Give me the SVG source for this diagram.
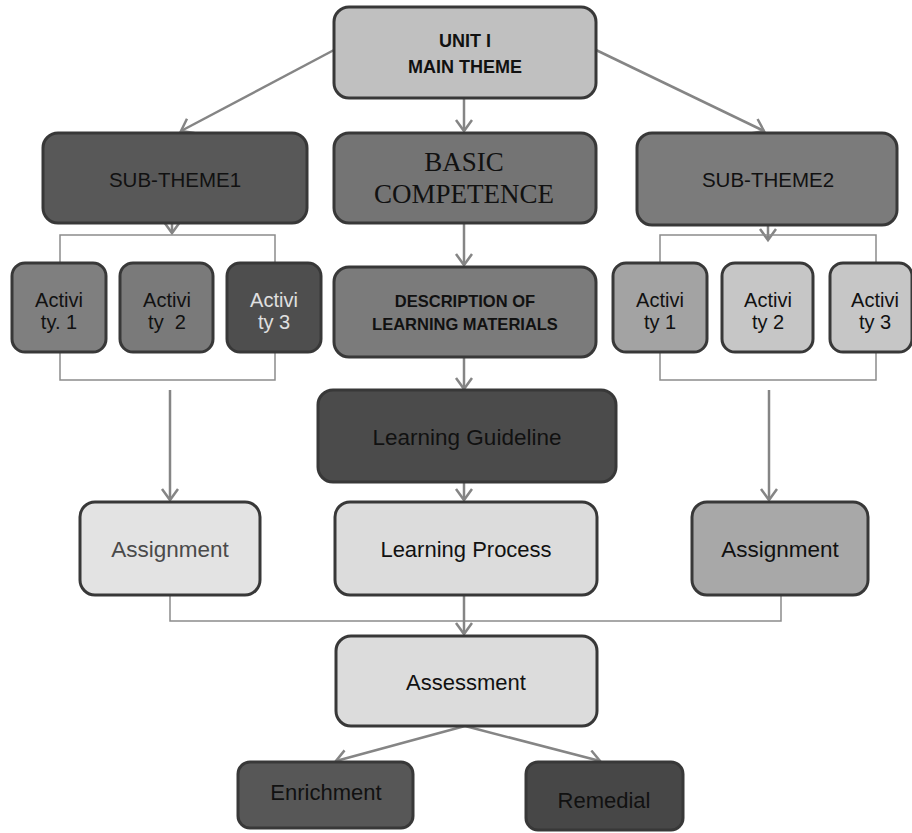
<svg xmlns="http://www.w3.org/2000/svg" width="912" height="833" viewBox="0 0 912 833">
<style>
.b{stroke:#383838;stroke-width:3}
.t{font-family:"Liberation Sans",Arial,sans-serif;fill:#111;text-anchor:middle}
.s{font-family:"Liberation Serif","Times New Roman",serif}
.c{stroke:#858585;stroke-width:2.5;fill:none}
.k{stroke:#8c8c8c;stroke-width:1.5;fill:none}
</style>
<defs>
<marker id="ah" markerUnits="userSpaceOnUse" markerWidth="22" markerHeight="22" refX="12" refY="9" orient="auto">
<path d="M1,1 L12,9 L1,17" fill="none" stroke="#858585" stroke-width="2.5"/>
</marker>
</defs>
<rect width="912" height="833" fill="#fff"/>
<g id="connectors">
<line class="c" x1="334" y1="50" x2="181" y2="131" marker-end="url(#ah)"/>
<line class="c" x1="596" y1="50" x2="764" y2="131" marker-end="url(#ah)"/>
<line class="c" x1="464" y1="98" x2="464" y2="131" marker-end="url(#ah)"/>
<line class="c" x1="172" y1="223" x2="172" y2="233" marker-end="url(#ah)"/>
<line class="c" x1="768" y1="226" x2="768" y2="240" marker-end="url(#ah)"/>
<polyline class="k" points="60,263 60,235 275,235 275,263"/>
<polyline class="k" points="60,352 60,380 275,380 275,352"/>
<polyline class="k" points="660,263 660,235 876,235 876,263"/>
<polyline class="k" points="660,352 660,380 876,380 876,352"/>
<line class="c" x1="464" y1="223" x2="464" y2="265" marker-end="url(#ah)"/>
<line class="c" x1="464" y1="357" x2="464" y2="389" marker-end="url(#ah)"/>
<line class="c" x1="464" y1="482" x2="464" y2="500" marker-end="url(#ah)"/>
<line class="c" x1="170" y1="390" x2="170" y2="500" marker-end="url(#ah)"/>
<line class="c" x1="769" y1="390" x2="769" y2="500" marker-end="url(#ah)"/>
<polyline class="k" points="170,595 170,621 781,621 781,595"/>
<line class="c" x1="464" y1="595" x2="464" y2="634" marker-end="url(#ah)"/>
<line class="c" x1="465" y1="726" x2="336" y2="761" marker-end="url(#ah)"/>
<line class="c" x1="465" y1="726" x2="600" y2="761" marker-end="url(#ah)"/>
</g>
<g id="main">
<rect class="b" x="334" y="7" width="262" height="91" rx="15" fill="#c0c0c0"/>
<text class="t" x="465" y="47" font-size="18" font-weight="bold">UNIT I</text>
<text class="t" x="465" y="73" font-size="18" font-weight="bold">MAIN THEME</text>
</g>
<g id="sub1">
<rect class="b" x="43" y="133" width="264" height="90" rx="15" fill="#585858"/>
<text class="t" x="175" y="187" font-size="20.5">SUB-THEME1</text>
</g>
<g id="basic">
<rect class="b" x="334" y="133" width="262" height="90" rx="15" fill="#747474"/>
<text class="t s" x="464" y="171" font-size="27">BASIC</text>
<text class="t s" x="464" y="203" font-size="27">COMPETENCE</text>
</g>
<g id="sub2">
<rect class="b" x="637" y="133" width="260" height="92" rx="15" fill="#7b7b7b"/>
<text class="t" x="768" y="187" font-size="20.5">SUB-THEME2</text>
</g>
<g id="act1L">
<rect class="b" x="12" y="263" width="94" height="89" rx="13" fill="#7f7f7f"/>
<text class="t" x="59" y="307" font-size="20">Activi</text>
<text class="t" x="59" y="329" font-size="20">ty. 1</text>
</g>
<g id="act2L">
<rect class="b" x="120" y="263" width="93" height="89" rx="13" fill="#7a7a7a"/>
<text class="t" x="167" y="307" font-size="20">Activi</text>
<text class="t" x="167" y="329" font-size="20" xml:space="preserve">ty  2</text>
</g>
<g id="act3L">
<rect class="b" x="227" y="263" width="94" height="89" rx="13" fill="#4e4e4e"/>
<text class="t" x="274" y="307" font-size="20" style="fill:#e0e0e0">Activi</text>
<text class="t" x="274" y="329" font-size="20" style="fill:#e0e0e0">ty 3</text>
</g>
<g id="desc">
<rect class="b" x="334" y="267" width="262" height="90" rx="15" fill="#7b7b7b"/>
<text class="t" x="465" y="307" font-size="16.5" font-weight="bold">DESCRIPTION OF</text>
<text class="t" x="465" y="330" font-size="16.5" font-weight="bold">LEARNING MATERIALS</text>
</g>
<g id="act1R">
<rect class="b" x="613" y="263" width="94" height="89" rx="13" fill="#a3a3a3"/>
<text class="t" x="660" y="307" font-size="20">Activi</text>
<text class="t" x="660" y="329" font-size="20">ty 1</text>
</g>
<g id="act2R">
<rect class="b" x="722" y="263" width="91" height="89" rx="13" fill="#c6c6c6"/>
<text class="t" x="768" y="307" font-size="20">Activi</text>
<text class="t" x="768" y="329" font-size="20">ty 2</text>
</g>
<g id="act3R">
<rect class="b" x="830" y="263" width="82" height="89" rx="13" fill="#c6c6c6"/>
<text class="t" x="875" y="307" font-size="20">Activi</text>
<text class="t" x="875" y="329" font-size="20">ty 3</text>
</g>
<g id="guideline">
<rect class="b" x="318" y="390" width="298" height="92" rx="15" fill="#4b4b4b"/>
<text class="t" x="467" y="445" font-size="22.5">Learning Guideline</text>
</g>
<g id="assignL">
<rect class="b" x="80" y="502" width="180" height="93" rx="15" fill="#e3e3e3"/>
<text class="t" x="170" y="557" font-size="22.5" style="fill:#4a4a4a">Assignment</text>
</g>
<g id="process">
<rect class="b" x="335" y="502" width="262" height="93" rx="15" fill="#dcdcdc"/>
<text class="t" x="466" y="557" font-size="22">Learning Process</text>
</g>
<g id="assignR">
<rect class="b" x="692" y="502" width="176" height="93" rx="15" fill="#a8a8a8"/>
<text class="t" x="780" y="557" font-size="22.5">Assignment</text>
</g>
<g id="assessment">
<rect class="b" x="336" y="636" width="261" height="90" rx="15" fill="#dcdcdc"/>
<text class="t" x="466" y="690" font-size="22">Assessment</text>
</g>
<g id="enrichment">
<rect class="b" x="238" y="762" width="175" height="66" rx="12" fill="#575757"/>
<text class="t" x="326" y="800" font-size="22">Enrichment</text>
</g>
<g id="remedial">
<rect class="b" x="526" y="762" width="157" height="68" rx="12" fill="#474747"/>
<text class="t" x="604" y="808" font-size="22">Remedial</text>
</g>
</svg>
